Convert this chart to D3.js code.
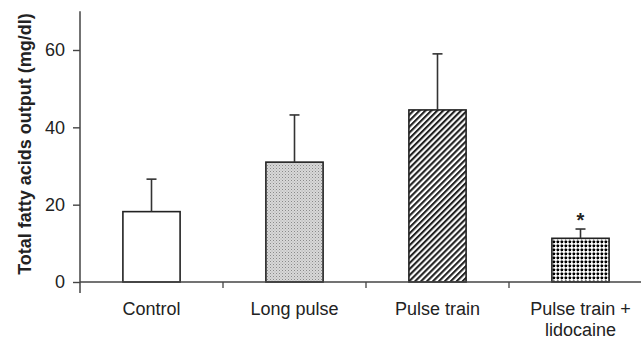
<!DOCTYPE html>
<html>
<head>
<meta charset="utf-8">
<script src="https://cdn.jsdelivr.net/npm/d3@7"></script>
<style>
  body { margin: 0; background: #fff; }
  svg { font-family: "Liberation Sans", Arial, sans-serif; }
</style>
</head>
<body>
<svg id="chart" width="644" height="347"></svg>
<script>
// chart values
const categories = ["Control", "Long pulse", "Pulse train", "Pulse train +\nlidocaine"];
const means = [18.2, 31.0, 44.5, 11.3];
const errUpper = [26.6, 43.2, 59.0, 13.7];
const patterns = ["none", "stipple", "hatch", "dots"];
const significant = [false, false, false, true];
const yTicks = [0, 20, 40, 60];

const svg = d3.select("#chart");

// origin of the plot
const plotLeft = 80, plotBottom = 282;
const bandW = 143;

const x = d3.scaleBand()
    .domain(categories)
    .range([plotLeft, plotLeft + bandW * categories.length])
    .paddingInner(0.6)
    .paddingOuter(0.3);

const y = d3.scaleLinear().domain([0, 70]).range([plotBottom, plotBottom - 70 * (plotBottom - 50) / 60]);

// fill patterns
const defs = svg.append("defs");

let p = defs.append("pattern").attr("id", "stipple")
    .attr("width", 3).attr("height", 3).attr("patternUnits", "userSpaceOnUse");
p.append("rect").attr("width", 3).attr("height", 3).attr("fill", "#d8d8d8");
p.append("rect").attr("width", 1).attr("height", 1).attr("fill", "#8a8a8a");
p.append("rect").attr("x", 1.5).attr("y", 1.5).attr("width", 1).attr("height", 1).attr("fill", "#a8a8a8");

p = defs.append("pattern").attr("id", "hatch")
    .attr("width", 4.2).attr("height", 4.2).attr("patternUnits", "userSpaceOnUse")
    .attr("patternTransform", "rotate(45)");
p.append("rect").attr("width", 4.2).attr("height", 4.2).attr("fill", "#fff");
p.append("rect").attr("width", 2.1).attr("height", 4.2).attr("fill", "#222");

p = defs.append("pattern").attr("id", "dots")
    .attr("width", 4).attr("height", 4).attr("patternUnits", "userSpaceOnUse");
p.append("rect").attr("width", 4).attr("height", 4).attr("fill", "#fff");
p.append("rect").attr("x", 0).attr("y", 1.5).attr("width", 4).attr("height", 0.6).attr("fill", "#666");
p.append("rect").attr("x", 1.5).attr("y", 0).attr("width", 0.6).attr("height", 4).attr("fill", "#666");
p.append("rect").attr("x", 0.7).attr("y", 0.7).attr("width", 2.3).attr("height", 2.3).attr("fill", "#000");

// bars
const bars = svg.append("g");
bars.selectAll("rect")
    .data(categories)
    .join("rect")
    .attr("x", d => x(d))
    .attr("y", (d, i) => y(means[i]))
    .attr("width", x.bandwidth())
    .attr("height", (d, i) => y(0) - y(means[i]))
    .attr("fill", (d, i) => patterns[i] === "none" ? "#fff" : "url(#" + patterns[i] + ")")
    .attr("stroke", "#222")
    .attr("stroke-width", 1.6);

// error bars (upper only)
const err = svg.append("g").attr("stroke", "#333").attr("stroke-width", 1.6);
categories.forEach((c, i) => {
    const cx = x(c) + x.bandwidth() / 2;
    err.append("line").attr("x1", cx).attr("x2", cx)
        .attr("y1", y(means[i])).attr("y2", y(errUpper[i]));
    err.append("line").attr("x1", cx - 5).attr("x2", cx + 5)
        .attr("y1", y(errUpper[i])).attr("y2", y(errUpper[i]));
    if (significant[i]) {
        svg.append("text").attr("x", cx).attr("y", y(errUpper[i]) - 2)
            .attr("text-anchor", "middle").attr("font-size", 20).attr("font-weight", "bold")
            .attr("fill", "#222")
            .text("*");
    }
});

// y axis
const yAxis = svg.append("g").attr("transform", `translate(${plotLeft},0)`)
    .call(d3.axisLeft(y).tickValues(yTicks).tickSize(7).tickPadding(8).tickSizeOuter(0));
yAxis.select(".domain").attr("stroke", "#444").attr("stroke-width", 1.5)
    .attr("d", `M0,${y(70)}V${plotBottom + 11}`);
yAxis.selectAll(".tick line").attr("stroke", "#444").attr("stroke-width", 1.4);
yAxis.selectAll("text").attr("font-size", 18).attr("fill", "#222").attr("font-family", "Liberation Sans, Arial, sans-serif");

// x axis with ticks at category boundaries
svg.append("line").attr("x1", plotLeft).attr("x2", 641)
    .attr("y1", plotBottom).attr("y2", plotBottom)
    .attr("stroke", "#444").attr("stroke-width", 1.5);
const bounds = d3.range(1, categories.length).map(i => plotLeft + bandW * i);
svg.append("g").selectAll("line").data(bounds).join("line")
    .attr("x1", d => d).attr("x2", d => d)
    .attr("y1", plotBottom).attr("y2", plotBottom + 6)
    .attr("stroke", "#444").attr("stroke-width", 1.3);

// category labels
const labels = svg.append("g").attr("font-size", 18).attr("fill", "#222").attr("text-anchor", "middle");
categories.forEach(c => {
    const t = labels.append("text").attr("x", x(c) + x.bandwidth() / 2).attr("y", 315);
    c.split("\n").forEach((s, j) => {
        t.append("tspan").attr("x", x(c) + x.bandwidth() / 2).attr("dy", j ? 21 : 0).text(s);
    });
});

// y axis title
svg.append("text")
    .attr("transform", `translate(31,144) rotate(-90)`)
    .attr("text-anchor", "middle").attr("font-size", 18).attr("font-weight", "bold").attr("fill", "#222")
    .text("Total fatty acids output (mg/dl)");
</script>
</body>
</html>
